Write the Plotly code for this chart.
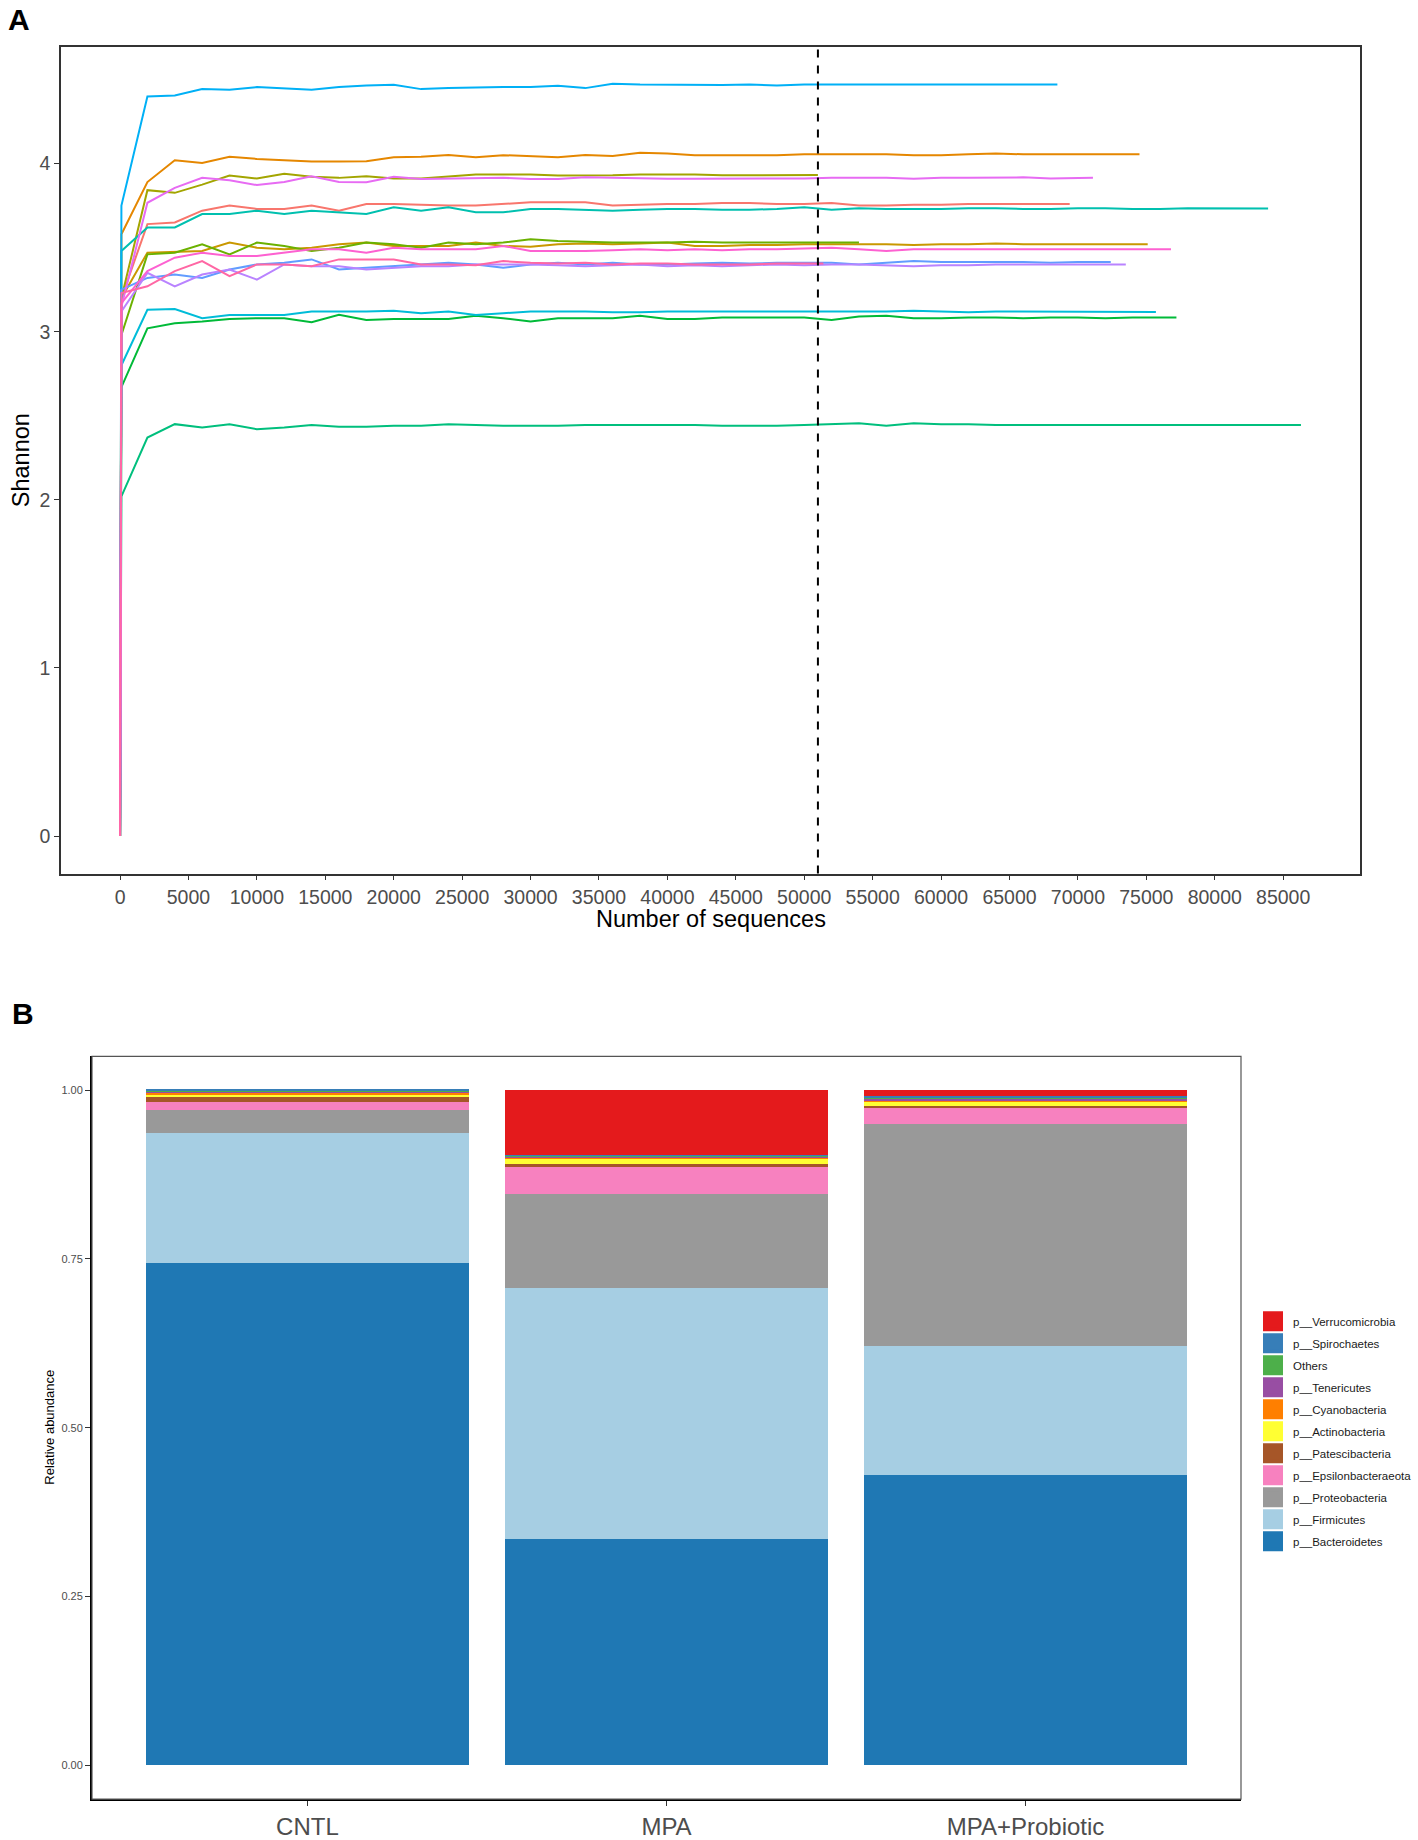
import plotly.graph_objects as go

# ---- Panel A: rarefaction curves (Shannon) ----
# rarefaction grid: depth 1, 100, then every 2000 sequences
depth_grid = [1, 100] + list(range(2000, 88000, 2000))
rarefy_depth = 51000
x_ticks = list(range(0, 90000, 5000))

sample_names = ['CNTL1', 'CNTL2', 'CNTL3', 'CNTL4', 'CNTL5',
                'MPA1', 'MPA2', 'MPA3', 'MPA4', 'MPA5',
                'MPAP1', 'MPAP2', 'MPAP3', 'MPAP4', 'MPAP5']
sample_colors = ['#F8766D', '#E58700', '#C99800', '#A3A500', '#6BB100',
                 '#00BA38', '#00BF7D', '#00C0AF', '#00BCD8', '#00B0F6',
                 '#619CFF', '#B983FF', '#E76BF3', '#FD61D1', '#FF67A4']
sample_depth = [69400, 74500, 75100, 51000, 54000,
                77200, 86300, 83900, 75700, 68500,
                72400, 73500, 71100, 76800, 51400]

shannon = [
    [0, 3.20, 3.64, 3.65, 3.72, 3.75, 3.73, 3.73, 3.75, 3.72, 3.76, 3.76,
     3.755, 3.75, 3.75, 3.76, 3.77, 3.77, 3.77, 3.75, 3.755, 3.76,
     3.76, 3.765, 3.765, 3.76, 3.76, 3.765, 3.75, 3.75, 3.755, 3.755,
     3.76, 3.76, 3.76, 3.76, 3.76],
    [0, 3.58, 3.89, 4.02, 4.004, 4.04, 4.028, 4.02, 4.012, 4.012, 4.014, 4.038,
     4.04, 4.051, 4.038, 4.05, 4.044, 4.038, 4.051, 4.045, 4.065, 4.06,
     4.05, 4.05, 4.05, 4.05, 4.055, 4.055, 4.055, 4.055, 4.05, 4.05,
     4.055, 4.06, 4.055, 4.055, 4.055, 4.055, 4.055, 4.055],
    [0, 3.20, 3.47, 3.475, 3.48, 3.53, 3.50, 3.49, 3.50, 3.52, 3.53, 3.51,
     3.51, 3.51, 3.53, 3.51, 3.505, 3.52, 3.525, 3.52, 3.525, 3.53,
     3.51, 3.51, 3.515, 3.515, 3.52, 3.52, 3.52, 3.52, 3.515, 3.52,
     3.52, 3.525, 3.52, 3.52, 3.52, 3.52, 3.52, 3.52],
    [0, 3.20, 3.842, 3.826, 3.875, 3.929, 3.911, 3.939, 3.921, 3.915, 3.925, 3.911,
     3.911, 3.921, 3.935, 3.935, 3.935, 3.929, 3.929, 3.93, 3.935, 3.935,
     3.935, 3.93, 3.93, 3.932, 3.932, 3.932],
    [0, 2.98, 3.46, 3.47, 3.52, 3.46, 3.53, 3.51, 3.48, 3.50, 3.53, 3.52,
     3.50, 3.53, 3.52, 3.53, 3.55, 3.54, 3.535, 3.53, 3.53, 3.53,
     3.535, 3.53, 3.53, 3.53, 3.53, 3.53, 3.53],
    [0, 2.67, 3.02, 3.05, 3.06, 3.075, 3.08, 3.08, 3.056, 3.10, 3.07, 3.075,
     3.075, 3.075, 3.095, 3.08, 3.06, 3.08, 3.08, 3.08, 3.095, 3.075,
     3.075, 3.085, 3.085, 3.085, 3.085, 3.07, 3.09, 3.095, 3.08, 3.08,
     3.085, 3.085, 3.08, 3.085, 3.085, 3.08, 3.085, 3.085, 3.085],
    [0, 2.02, 2.37, 2.45, 2.43, 2.45, 2.42, 2.43, 2.445, 2.435, 2.435, 2.44,
     2.44, 2.45, 2.445, 2.44, 2.44, 2.44, 2.445, 2.445, 2.445, 2.445,
     2.445, 2.44, 2.44, 2.44, 2.445, 2.45, 2.455, 2.44, 2.455, 2.45,
     2.45, 2.445, 2.445, 2.445, 2.445, 2.445, 2.445, 2.445, 2.445, 2.445,
     2.445, 2.445, 2.445, 2.445],
    [0, 3.48, 3.62, 3.62, 3.70, 3.70, 3.72, 3.70, 3.72, 3.71, 3.70, 3.74,
     3.72, 3.74, 3.71, 3.71, 3.73, 3.73, 3.725, 3.72, 3.725, 3.73,
     3.73, 3.725, 3.725, 3.73, 3.74, 3.725, 3.735, 3.73, 3.73, 3.73,
     3.735, 3.735, 3.73, 3.73, 3.735, 3.735, 3.73, 3.73, 3.735, 3.735,
     3.735, 3.733],
    [0, 2.80, 3.13, 3.135, 3.08, 3.10, 3.10, 3.10, 3.12, 3.12, 3.12, 3.125,
     3.11, 3.12, 3.10, 3.11, 3.12, 3.12, 3.12, 3.115, 3.115, 3.12,
     3.12, 3.12, 3.12, 3.12, 3.12, 3.12, 3.12, 3.12, 3.125, 3.12,
     3.115, 3.12, 3.12, 3.12, 3.12, 3.12, 3.12, 3.117],
    [0, 3.75, 4.399, 4.405, 4.443, 4.439, 4.455, 4.445, 4.439, 4.455, 4.465, 4.469,
     4.443, 4.449, 4.453, 4.455, 4.455, 4.463, 4.449, 4.475, 4.47, 4.468,
     4.468, 4.468, 4.47, 4.465, 4.47, 4.47, 4.468, 4.472, 4.47, 4.468,
     4.468, 4.47, 4.472, 4.47, 4.47],
    [0, 3.25, 3.32, 3.34, 3.32, 3.37, 3.40, 3.41, 3.43, 3.37, 3.38, 3.39,
     3.40, 3.41, 3.40, 3.38, 3.40, 3.41, 3.40, 3.41, 3.40, 3.40,
     3.405, 3.41, 3.405, 3.41, 3.41, 3.41, 3.40, 3.41, 3.42, 3.415,
     3.415, 3.415, 3.415, 3.41, 3.415, 3.415, 3.415],
    [0, 3.12, 3.35, 3.27, 3.34, 3.37, 3.31, 3.40, 3.39, 3.39, 3.37, 3.38,
     3.39, 3.39, 3.40, 3.40, 3.40, 3.395, 3.39, 3.395, 3.40, 3.39,
     3.395, 3.39, 3.395, 3.40, 3.395, 3.40, 3.40, 3.395, 3.39, 3.395,
     3.395, 3.40, 3.40, 3.40, 3.40, 3.40, 3.40],
    [0, 3.15, 3.767, 3.856, 3.915, 3.901, 3.872, 3.891, 3.925, 3.891, 3.889, 3.921,
     3.909, 3.911, 3.915, 3.915, 3.909, 3.909, 3.919, 3.915, 3.915, 3.91,
     3.91, 3.91, 3.912, 3.912, 3.912, 3.915, 3.915, 3.915, 3.91, 3.915,
     3.915, 3.918, 3.918, 3.912, 3.915, 3.915],
    [0, 3.17, 3.36, 3.44, 3.47, 3.45, 3.45, 3.47, 3.49, 3.49, 3.47, 3.50,
     3.49, 3.49, 3.49, 3.51, 3.48, 3.48, 3.48, 3.485, 3.49, 3.485,
     3.49, 3.485, 3.49, 3.49, 3.495, 3.50, 3.49, 3.48, 3.49, 3.49,
     3.49, 3.49, 3.49, 3.49, 3.49, 3.49, 3.49, 3.49, 3.49],
    [0, 3.23, 3.27, 3.36, 3.42, 3.33, 3.40, 3.40, 3.39, 3.43, 3.43, 3.43,
     3.40, 3.40, 3.395, 3.42, 3.41, 3.405, 3.41, 3.40, 3.405, 3.405,
     3.40, 3.40, 3.40, 3.405, 3.405, 3.405],
]

# ---- Panel B: relative abundance of phyla ----
groups = ['CNTL', 'MPA', 'MPA+Probiotic']
phyla = ['p__Bacteroidetes', 'p__Firmicutes', 'p__Proteobacteria',
         'p__Epsilonbacteraeota', 'p__Patescibacteria', 'p__Actinobacteria',
         'p__Cyanobacteria', 'p__Tenericutes', 'Others', 'p__Spirochaetes',
         'p__Verrucomicrobia']
phyla_colors = ['#1F78B4', '#A6CEE3', '#999999', '#F781BF', '#A65628', '#FFFF33',
                '#FF7F00', '#984EA3', '#4DAF4A', '#377EB8', '#E41A1C']
abundance = {
    'p__Bacteroidetes':      [0.744, 0.335, 0.430],
    'p__Firmicutes':         [0.193, 0.372, 0.191],
    'p__Proteobacteria':     [0.033, 0.139, 0.328],
    'p__Epsilonbacteraeota': [0.013, 0.040, 0.025],
    'p__Patescibacteria':    [0.007, 0.005, 0.002],
    'p__Actinobacteria':     [0.003, 0.007, 0.007],
    'p__Cyanobacteria':      [0.003, 0.001, 0.001],
    'p__Tenericutes':        [0.002, 0.002, 0.002],
    'Others':                [0.001, 0.002, 0.003],
    'p__Spirochaetes':       [0.001, 0.001, 0.002],
    'p__Verrucomicrobia':    [0.000, 0.096, 0.009],
}

W, H = 1418, 1840
FONT = 'Liberation Sans, Arial, sans-serif'
TICK_COL = '#4D4D4D'
LINE_COL = '#333333'

fig = go.Figure()

for name, col, end, vals in zip(sample_names, sample_colors, sample_depth, shannon):
    xs = depth_grid[:len(vals) - 1] + [end]
    fig.add_trace(go.Scatter(
        x=xs, y=vals, mode='lines', name=name,
        line=dict(color=col, width=2),
        showlegend=False, xaxis='x', yaxis='y'
    ))

for i, (ph, col) in enumerate(zip(phyla, phyla_colors)):
    fig.add_trace(go.Bar(
        x=groups, y=abundance[ph], name=ph, width=0.9,
        marker=dict(color=col, line=dict(width=0)),
        legendgroup=ph, showlegend=False, xaxis='x2', yaxis='y2'
    ))
    # legend key only (bigger square than the default bar swatch)
    fig.add_trace(go.Scatter(
        x=[None], y=[None], mode='markers', name=ph,
        marker=dict(symbol='square', size=20, color=col,
                    line=dict(color=col, width=4)),
        legendgroup=ph, legendrank=100 - i, xaxis='x2', yaxis='y2'
    ))

# dashed line at rarefaction depth
fig.add_shape(type='line', xref='x', yref='y domain',
              x0=rarefy_depth, x1=rarefy_depth, y0=0, y1=1,
              line=dict(color='black', width=2, dash='8px,8px'))

# panel B border (lighter top/right)
fig.add_shape(type='rect', xref='x2 domain', yref='y2 domain',
              x0=0, x1=1, y0=0, y1=1, line=dict(color='#555555', width=1.2))

def px_x(v):
    return v / W

def px_y(v):
    return 1 - v / H

axis_common = dict(showgrid=False, zeroline=False, ticks='outside', ticklen=5,
                   tickwidth=1.3, tickcolor=LINE_COL, showline=True)

def label(text, x, y, size, angle=0, bold=False):
    return dict(text=f'<b>{text}</b>' if bold else text,
                x=px_x(x), y=px_y(y), xref='paper', yref='paper',
                xanchor='center', yanchor='middle', textangle=angle,
                showarrow=False, font=dict(size=size, color='black'))

fig.update_layout(
    width=W, height=H, autosize=False,
    margin=dict(l=0, r=0, t=0, b=0),
    paper_bgcolor='white', plot_bgcolor='white',
    font=dict(family=FONT, color='black'),
    barmode='stack',
    xaxis=dict(domain=[px_x(61), px_x(1360)], range=[-4315, 90615],
               tickmode='array', tickvals=x_ticks, tickformat='d',
               tickfont=dict(size=19.5, color=TICK_COL),
               linecolor=LINE_COL, linewidth=1.5, mirror=True,
               anchor='y', **axis_common),
    yaxis=dict(domain=[px_y(875), px_y(47)], range=[-0.2235, 4.694],
               tickmode='linear', tick0=0, dtick=1,
               tickfont=dict(size=19.5, color=TICK_COL),
               linecolor=LINE_COL, linewidth=1.5, mirror=True,
               anchor='x', **axis_common),
    xaxis2=dict(domain=[px_x(92), px_x(1241)], range=[-0.6, 2.6],
                type='category', categoryorder='array', categoryarray=groups,
                tickfont=dict(size=24, color=TICK_COL),
                linecolor='black', linewidth=2, anchor='y2', **axis_common),
    yaxis2=dict(domain=[px_y(1802), px_y(1058)], range=[-0.05, 1.05],
                tickmode='array', tickvals=[0, 0.25, 0.5, 0.75, 1.0],
                tickformat='.2f', tickfont=dict(size=11, color=TICK_COL),
                linecolor='black', linewidth=2, anchor='x2', **axis_common),
    legend=dict(x=px_x(1253), y=px_y(1309), xanchor='left', yanchor='top',
                traceorder='grouped', tracegroupgap=3, itemsizing='trace',
                font=dict(size=11.5, family=FONT, color='#1A1A1A'),
                bgcolor='rgba(0,0,0,0)'),
    annotations=[
        label('A', 19, 20, 30, bold=True),
        label('B', 23, 1015, 30, bold=True),
        label('Number of sequences', 711, 920, 23.5),
        label('Shannon', 21, 461, 23.5, angle=-90),
        label('Relative abundance', 50, 1430, 13, angle=-90),
    ],
)

fig.write_html(
    'out.html',
    config={'displayModeBar': False, 'responsive': False},
    post_script=("document.body.style.margin='0';"
                 "document.body.style.overflow='hidden';"
                 "document.documentElement.style.overflow='hidden';"
                 "var gd=document.getElementById('{plot_id}');"
                 "gd.style.width='1418px';"
                 "Plotly.relayout(gd,{width:1418,height:1840});"),
)
